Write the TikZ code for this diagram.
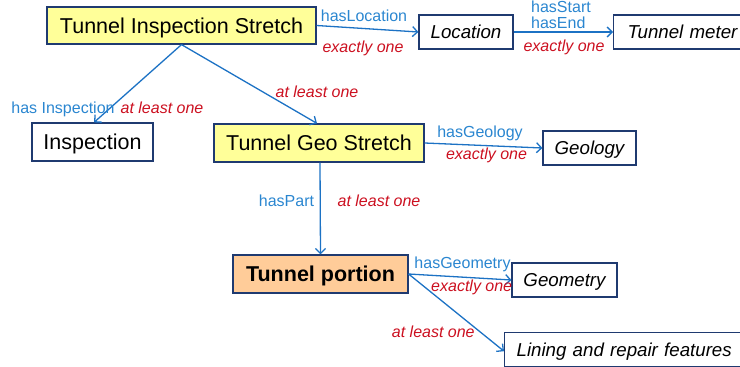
\documentclass[tikz,border=0pt]{standalone}
\usepackage{fontspec}
\setmainfont{Liberation Sans}
\usetikzlibrary{arrows.meta}
\definecolor{bordc}{HTML}{1F3A70}
\definecolor{arrc}{HTML}{1C72C4}
\definecolor{bluet}{HTML}{2A86D0}
\definecolor{redt}{HTML}{CC1020}
\definecolor{yel}{HTML}{FFFF99}
\definecolor{ora}{HTML}{FFCC99}
\tikzset{
  box/.style={draw=bordc, line width=1.2pt, inner sep=0pt, align=center, fill=white, text depth=0pt},
  bigbox/.style={box, font=\fontsize{21.5}{24}\selectfont},
  itbox/.style={box, font=\fontsize{18.7}{22}\selectfont\itshape},
  conn/.style={draw=arrc, line width=1.3pt, -{Straight Barb[length=5pt,width=10pt,line width=1.3pt]}},
  lbl/.style={text=bluet, inner sep=0pt, anchor=base, font=\fontsize{16}{16}\selectfont},
  card/.style={text=redt, inner sep=0pt, anchor=base, font=\fontsize{16}{16}\selectfont\itshape},
}
\begin{document}
\begin{tikzpicture}[x=1pt,y=-1pt]
\useasboundingbox (0,0) rectangle (740,367);
% boxes
\node[bigbox, fill=yel, minimum width=269pt, minimum height=37pt] (tis) at (181.5,25.5) {Tunnel Inspection Stretch};
\node[itbox, minimum width=94pt, minimum height=34pt] (loc) at (466,32) {Location};
\node[itbox, anchor=west, align=left, inner xsep=14pt, text width=120pt, minimum height=34pt] (tm) at (613,32) {Tunnel meter};
\node[bigbox, minimum width=121pt, minimum height=38pt] (insp) at (92.5,142) {Inspection};
\node[bigbox, fill=yel, minimum width=210pt, minimum height=38pt] (tgs) at (319,143) {Tunnel Geo Stretch};
\node[itbox, minimum width=93pt, minimum height=34pt] (geo) at (589.5,148) {Geology};
\node[bigbox, fill=ora, minimum width=175pt, minimum height=38pt, font=\fontsize{21.5}{24}\selectfont\bfseries] (tp) at (320.5,274) {Tunnel portion};
\node[itbox, minimum width=105pt, minimum height=34pt] (geom) at (564.5,280) {Geometry};
\node[itbox, anchor=west, align=left, inner xsep=12pt, text width=230pt, minimum height=34pt] (lin) at (504,349.7) {Lining and repair features};
% connectors
\draw[conn] (tis.east) -- (loc.west);
\draw[conn] (loc.east) -- (tm.west);
\draw[conn] (tis.south) -- ([xshift=1.5pt]insp.north);
\draw[conn] (tis.south) -- ([xshift=-2pt]tgs.north);
\draw[conn] (tgs.east) -- (geo.west);
\draw[conn] ([xshift=1pt]tgs.south) -- (tp.north);
\draw[conn] (tp.east) -- (geom.west);
\draw[conn] (tp.east) -- ([yshift=-1.5pt]lin.west);
% labels
\node[lbl] (l1) at (364,21) {hasLocation};
\node[card] (c1) at (363,52) {exactly one};
\node[lbl, anchor=base west, align=left] (l2) at (531,28.3) {hasStart\\hasEnd};
\node[card] (c2) at (564,51.7) {exactly one};
\node[lbl] (l3) at (63,113) {has Inspection};
\node[card] (c3) at (162,113) {at least one};
\node[card] (c4) at (317,97.5) {at least one};
\node[lbl] (l5) at (480,137) {hasGeology};
\node[card] (c5) at (486.5,159) {exactly one};
\node[lbl] (l6) at (286.5,206.7) {hasPart};
\node[card] (c6) at (379,206.7) {at least one};
\node[lbl] (l7) at (462.5,268.3) {hasGeometry};
\node[card] (c7) at (471.7,291.7) {exactly one};
\node[card] (c8) at (433.3,337) {at least one};
\end{tikzpicture}
\end{document}
